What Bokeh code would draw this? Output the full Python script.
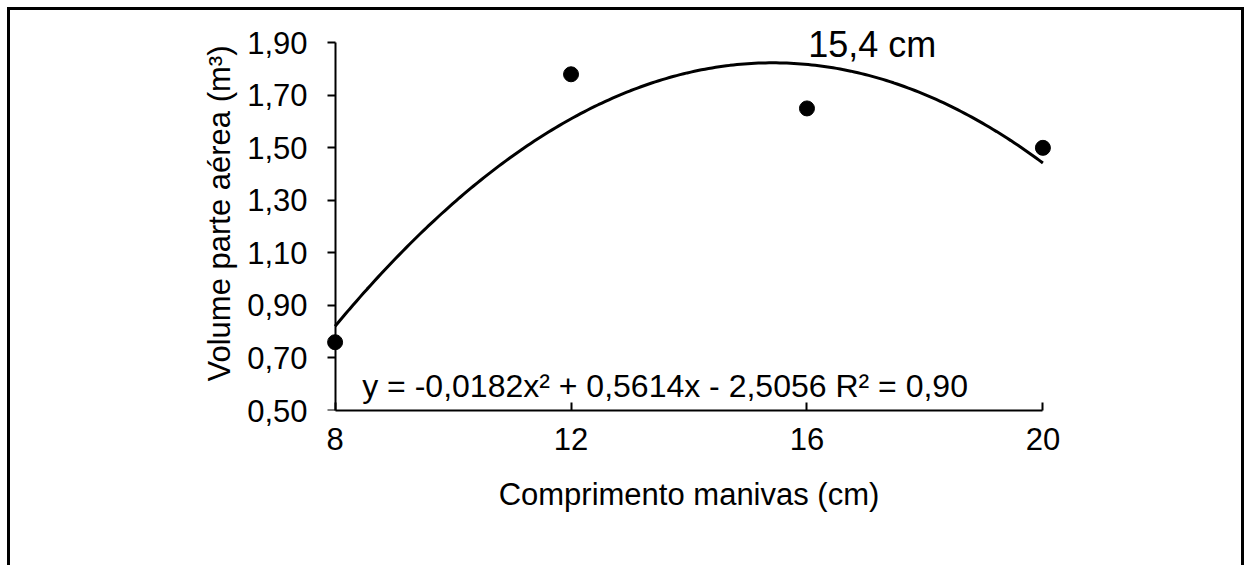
import numpy as np
from bokeh.plotting import figure
from bokeh.models import Range1d, FixedTicker, Label, LinearAxis
from bokeh.embed import file_html
from bokeh.resources import INLINE

# ---- data ----
x_values = [8, 12, 16, 20]
y_values = [0.76, 1.78, 1.65, 1.50]
fit_coeffs = [-0.0182, 0.5614, -2.5056]  # y = a x^2 + b x + c (trendline shown on chart)
x_ticks = [8, 12, 16, 20]
x_tick_labels = ["8", "12", "16", "20"]
y_ticks = [0.5, 0.7, 0.9, 1.1, 1.3, 1.5, 1.7, 1.9]
y_tick_labels = ["0,50", "0,70", "0,90", "1,10", "1,30", "1,50", "1,70", "1,90"]
x_label = "Comprimento manivas (cm)"
y_label = "Volume parte aérea (m³)"
equation_text = "y = -0,0182x² + 0,5614x - 2,5056 R² = 0,90"
optimum_text = "15,4 cm"

FONT = "Liberation Sans"
FS = "31px"

p = figure(width=1237, height=558, output_backend="svg", toolbar_location=None,
           x_range=Range1d(7.6, 20.4), y_range=Range1d(0.5, 2.0),
           min_border_left=301, min_border_right=181, min_border_top=6, min_border_bottom=158)
p.styles = {"border-top": "3px solid black", "border-left": "3px solid black",
            "border-right": "3px solid black", "margin-left": "7px", "margin-top": "7px",
            "overflow": "hidden"}
p.outline_line_color = None
p.grid.visible = False
p.background_fill_color = "white"
p.border_fill_color = "white"

# trendline
xs = np.linspace(x_values[0], x_values[-1], 200)
a, b, c = fit_coeffs
ys = a * xs ** 2 + b * xs + c
p.line(xs, ys, line_color="black", line_width=3)

# points
p.scatter(x_values, y_values, size=15, fill_color="black", line_color="black")

# x axis
xa = p.xaxis[0]
xa.ticker = FixedTicker(ticks=x_ticks)
xa.bounds = (x_ticks[0], x_ticks[-1])
xa.major_label_overrides = {t: l for t, l in zip(x_ticks, x_tick_labels)}
xa.major_tick_in = 8
xa.major_tick_out = 0
xa.minor_tick_line_color = None
xa.axis_line_width = 2
xa.major_tick_line_width = 2
xa.axis_line_color = "black"
xa.major_tick_line_color = "black"
xa.major_label_text_font = FONT
xa.major_label_text_font_size = FS
xa.major_label_text_color = "black"
xa.major_label_standoff = 17
xa.axis_label = x_label
xa.axis_label_text_font = FONT
xa.axis_label_text_font_size = FS
xa.axis_label_text_font_style = "normal"
xa.axis_label_text_color = "black"
xa.axis_label_standoff = 24

# y axis: labels (at frame edge, line hidden)
ya = p.yaxis[0]
ya.ticker = FixedTicker(ticks=y_ticks)
ya.bounds = (y_ticks[0], y_ticks[-1])
ya.major_label_overrides = {t: l for t, l in zip(y_ticks, y_tick_labels)}
ya.major_tick_in = 0
ya.major_tick_out = 0
ya.axis_line_color = None
ya.major_tick_line_color = None
ya.minor_tick_line_color = None
ya.major_label_text_font = FONT
ya.major_label_text_font_size = FS
ya.major_label_text_color = "black"
ya.major_label_standoff = 4
ya.axis_label = y_label
ya.axis_label_text_font = FONT
ya.axis_label_text_font_size = FS
ya.axis_label_text_font_style = "normal"
ya.axis_label_text_color = "black"
ya.axis_label_standoff = 7

# y axis: line and ticks at x = 8
ya2 = LinearAxis(ticker=FixedTicker(ticks=y_ticks), fixed_location=x_ticks[0],
                 bounds=(y_ticks[0], y_ticks[-1]))
ya2.major_label_text_font_size = "0px"
ya2.major_label_text_color = None
ya2.major_tick_in = 0
ya2.major_tick_out = 8
ya2.minor_tick_line_color = None
ya2.axis_line_width = 2
ya2.major_tick_line_width = 2
ya2.axis_line_color = "black"
ya2.major_tick_line_color = "black"
p.add_layout(ya2, "left")

p.add_layout(Label(x=8.46, y=0.595, text=equation_text, text_font=FONT,
                   text_font_size="32px", text_baseline="middle", text_color="black"))
p.add_layout(Label(x=16.02, y=1.892, text=optimum_text, text_font=FONT,
                   text_font_size="36px", text_baseline="middle", text_color="black"))

open("out.html", "w").write(file_html(p, INLINE))
